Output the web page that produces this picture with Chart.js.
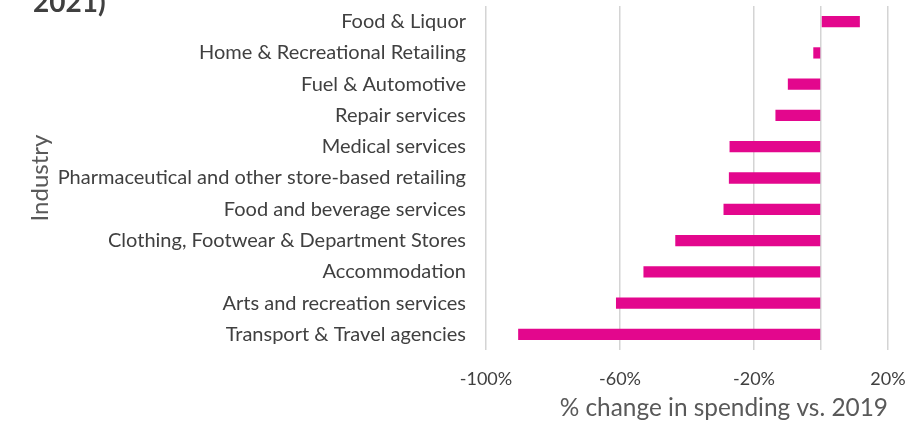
<!DOCTYPE html>
<html>
<head>
<meta charset="utf-8">
<title>Spending by industry</title>
<script src="https://cdn.jsdelivr.net/npm/chart.js"></script>
<style>
  html, body { margin: 0; padding: 0; background: #fff; }
  #wrap { position: relative; width: 909px; height: 423px; }
  #top-title { position: absolute; left: 33px; top: -16px; font: bold 28px Lato, sans-serif; color: #404040; }
</style>
</head>
<body>
<div id="wrap">
  <canvas id="chart" width="909" height="423"></canvas>
  <div id="top-title">2021)</div>
</div>
<script>
// Data
const industries = [
  'Food & Liquor',
  'Home & Recreational Retailing',
  'Fuel & Automotive',
  'Repair services',
  'Medical services',
  'Pharmaceutical and other store-based retailing',
  'Food and beverage services',
  'Clothing, Footwear & Department Stores',
  'Accommodation',
  'Arts and recreation services',
  'Transport & Travel agencies'
];
const spendingChange = [11.6, -2.3, -9.9, -13.6, -27.3, -27.5, -29.1, -43.5, -53.0, -61.2, -90.4];
const xTickLabels = [-100, -60, -20, 20];
const gridValues = [-100, -60, -20, 0, 20];

const ctx = document.getElementById('chart').getContext('2d');
new Chart(ctx, {
  type: 'bar',
  data: {
    labels: industries,
    datasets: [{
      label: '% change in spending vs. 2019',
      data: spendingChange,
      backgroundColor: '#e3078d',
      barPercentage: 0.36,
      categoryPercentage: 1
    }]
  },
  options: {
    indexAxis: 'y',
    responsive: false,
    animation: false,
    layout: { padding: { left: 24, right: 21, top: 6, bottom: 0 } },
    plugins: { legend: { display: false }, tooltip: { enabled: false } },
    scales: {
      x: {
        min: -100,
        max: 20,
        ticks: {
          stepSize: 20,
          padding: 18,
          color: '#404040',
          font: { family: 'Lato', size: 18 },
          maxRotation: 0,
          autoSkip: false,
          callback: v => xTickLabels.includes(v) ? v + '%' : ''
        },
        grid: {
          drawTicks: false,
          lineWidth: 1.5,
          color: c => gridValues.includes(c.tick && c.tick.value) ? '#d4d4d4' : 'rgba(0,0,0,0)'
        },
        border: { display: false },
        title: {
          display: true,
          text: '% change in spending vs. 2019',
          align: 'end',
          color: '#595959',
          font: { family: 'Lato', size: 24.4 },
          padding: { top: 0, bottom: 0 }
        },
        afterFit: s => { s.height = 73; s.paddingLeft = 0; s.paddingRight = 0; }
      },
      y: {
        grid: { display: false },
        border: { display: false },
        ticks: {
          color: '#404040',
          padding: 12,
          font: { family: 'Lato', size: 20 }
        },
        title: {
          display: true,
          text: 'Industry',
          color: '#595959',
          font: { family: 'Lato', size: 24 },
          padding: { top: 2, bottom: 0 }
        },
        afterFit: s => { s.width = 462; s.paddingTop = 0; s.paddingBottom = 0; }
      }
    }
  }
});
</script>
</body>
</html>
